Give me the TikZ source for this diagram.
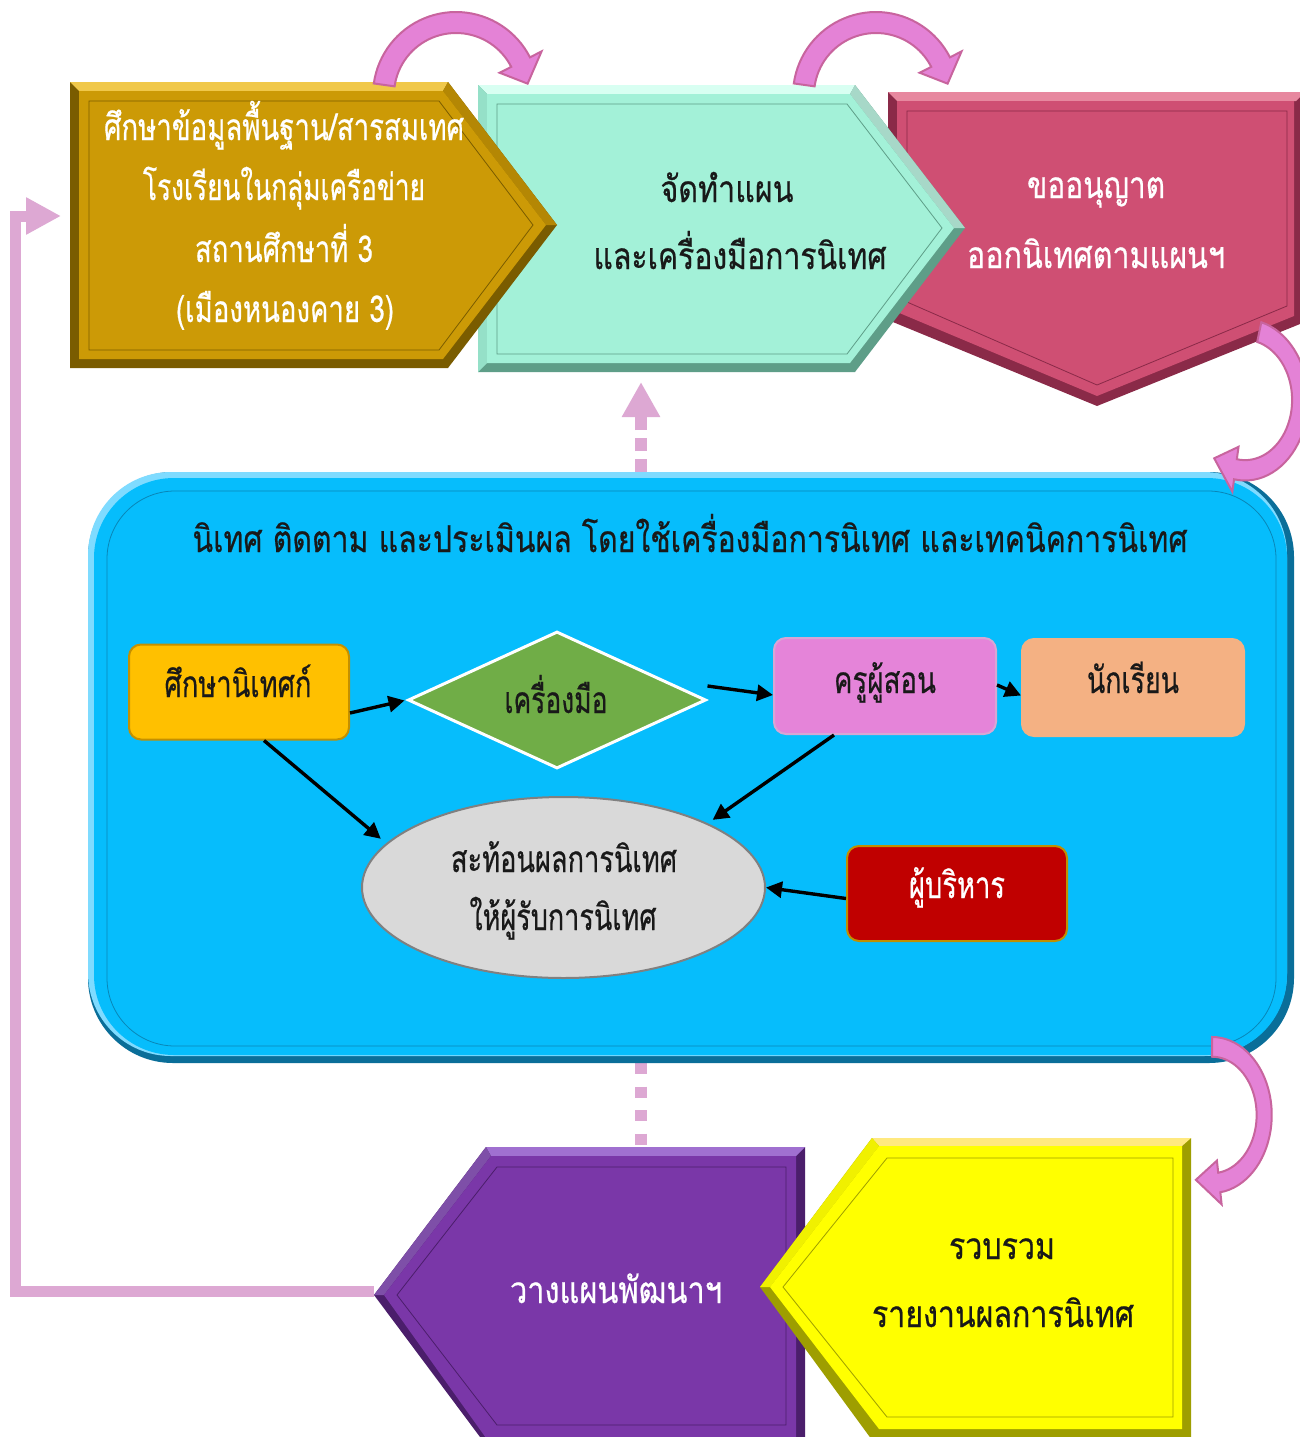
\documentclass[tikz,border=0pt]{standalone}
\usepackage{fontspec}
\usepackage{graphicx}
\usetikzlibrary{arrows.meta,shapes.geometric,calc}
\newfontfamily\thai[Script=Thai,FakeBold=0.6]{Loma}
\newcommand\fitw[2]{\resizebox{#1}{\height}{#2}}
\definecolor{goldM}{HTML}{CC9A06}\definecolor{goldD}{HTML}{7A5C00}\definecolor{goldL}{HTML}{F0C84A}
\definecolor{mintM}{HTML}{A3F1D8}\definecolor{mintD}{HTML}{5E9E88}\definecolor{mintL}{HTML}{D8FFF2}
\definecolor{roseM}{HTML}{CF4F73}\definecolor{roseD}{HTML}{8A2A48}\definecolor{roseL}{HTML}{E7889F}
\definecolor{purM}{HTML}{7A37A8}\definecolor{purD}{HTML}{4B1E6B}\definecolor{purL}{HTML}{A070D0}
\definecolor{yelM}{HTML}{FFFF00}\definecolor{yelD}{HTML}{9E9E00}\definecolor{yelL}{HTML}{FFE97F}
\definecolor{blueM}{HTML}{06BDFC}\definecolor{blueD}{HTML}{0A6E99}\definecolor{blueL}{HTML}{7FDBFF}
\definecolor{pkfill}{HTML}{E482D6}\definecolor{pkline}{HTML}{C8649E}
\definecolor{lilac}{HTML}{DDA8D3}
\newcommand\bandarrow[3]{%
  \filldraw[pkarrow] plot[domain=#1:#2,samples=40] ({83*cos(\x)},{83*sin(\x)})
    -- ({96*cos(#2)},{96*sin(#2)}) -- ({72.5*cos(#3)},{72.5*sin(#3)})
    -- ({49*cos(#2)},{49*sin(#2)})
    -- plot[domain=#2:#1,samples=40] ({62*cos(\x)},{62*sin(\x)}) -- cycle;}
\begin{document}
\begin{tikzpicture}[x=1pt,y=-1pt,
  txt/.style={anchor=base, inner sep=0pt, font=\thai\fontsize{37pt}{44pt}\selectfont, text=black!90},
  wtxt/.style={txt, text=white},
  pkarrow/.style={fill=pkfill, draw=pkline, line width=2pt, line join=miter},
  arr/.style={line width=3.4pt, -{Triangle[length=16pt,width=16pt]}},
  lilacline/.style={draw=lilac, line width=11pt, -{Triangle[length=35pt,width=35pt]}},
  lilacdash/.style={draw=lilac, line width=12pt},
  inbox/.style={rounded corners=12pt, line width=2pt, minimum width=#1, minimum height=95pt, inner sep=0pt},
  thinline/.style={line width=0.8pt}]
\useasboundingbox (0,0) rectangle (1299,1437);
\fill[white] (0,0) rectangle (1299,1437);

% named coordinates for connectors
\coordinate (purtip) at (374,1291);
\coordinate (goldin) at (61,216);
\coordinate (cttop) at (641,472);
\coordinate (mintbot) at (641,382);
\coordinate (ctbot) at (641,1063);
\coordinate (purtop) at (641,1147);

% feedback line
\draw[lilacline] (purtip) -- (15.5,1291) |- (goldin);
% dashed links
\draw[lilacdash, dash pattern=on 13pt off 8pt, -{Triangle[length=35pt,width=36pt]}] (cttop) -- (mintbot);
\draw[lilacdash, dash pattern=on 11pt off 12.5pt] (ctbot) -- (purtop);

% rose shape
\fill[roseD] (888,92) -- (1305,92) -- (1305,322) -- (1097,406) -- (888,320) -- cycle;
\fill[roseL] (888,92) -- (1305,92) -- (1296,101) -- (897,101) -- cycle;
\fill[roseM] (897,101) -- (1294,101) -- (1294,316) -- (1097,396) -- (897,312) -- cycle;
\draw[roseD, thinline] (907,111) -- (1287,111) -- (1287,306) -- (1097,385) -- (907,302) -- cycle;
% mint shape
\fill[mintD] (478,85) -- (855,85) -- (965,228) -- (855,372) -- (478,372) -- cycle;
\fill[mintL] (478,85) -- (855,85) -- (850,94) -- (487,94) -- cycle;
\fill[mintL!60!mintD] (855,85) -- (965,228) -- (954,228) -- (850,94) -- cycle;
\fill[mintM!80!mintD] (478,85) -- (487,94) -- (487,363) -- (478,372) -- cycle;
\fill[mintM] (487,94) -- (850,94) -- (954,228) -- (850,363) -- (487,363) -- cycle;
\draw[mintD, thinline] (497,104) -- (847,104) -- (942,228) -- (847,354) -- (497,354) -- cycle;
% gold shape
\fill[goldD] (70,82) -- (448,82) -- (557,225) -- (448,368) -- (70,368) -- cycle;
\fill[goldL] (70,82) -- (448,82) -- (443,91) -- (79,91) -- cycle;
\fill[goldM!70!goldD] (448,82) -- (557,225) -- (546,225) -- (443,91) -- cycle;
\fill[goldM] (79,91) -- (443,91) -- (546,225) -- (443,359) -- (79,359) -- cycle;
\draw[goldD, thinline] (89,101) -- (439,101) -- (533,225) -- (439,350) -- (89,350) -- cycle;

% container
\fill[blueD, rounded corners=85pt] (88,472) rectangle (1294,1063);
\fill[blueL, rounded corners=83pt] (88,472) rectangle (1287,1056);
\fill[blueM, rounded corners=80pt] (94,478) rectangle (1287,1055);
\draw[blueD!70!blueM, thinline, rounded corners=68pt] (107,491) rectangle (1276,1046);

% inner diagram
\node[inbox=220pt, fill={rgb,255:red,255;green,192;blue,0}, draw={rgb,255:red,196;green,144;blue,0}] (gk) at (239,692) {};
\node[diamond, minimum width=298pt, minimum height=137pt, inner sep=0pt, fill={rgb,255:red,112;green,173;blue,71}, draw=white, line width=3pt] (dm) at (557,700) {};
\node[inbox=222pt, minimum height=96pt, fill={rgb,255:red,229;green,132;blue,217}, draw={rgb,255:red,216;green,166;blue,212}] (kr) at (885,686) {};
\node[inbox=222pt, minimum height=97pt, fill={rgb,255:red,244;green,177;blue,131}, draw={rgb,255:red,244;green,177;blue,131}] (st) at (1133,687.5) {};
\node[inbox=220pt, fill={rgb,255:red,192;green,0;blue,0}, draw={rgb,255:red,191;green,144;blue,0}] (ad) at (957,893.5) {};
\node[ellipse, minimum width=403pt, minimum height=181pt, inner sep=0pt, fill={rgb,255:red,217;green,217;blue,217}, draw={rgb,255:red,128;green,128;blue,128}, line width=2pt] (el) at (563.5,887.5) {};

\draw[arr, shorten >=2pt] ([yshift=-21pt]gk.east) -- (dm.west);
\draw[arr] ([yshift=14pt]dm.east) -- ([yshift=-9pt]kr.west);
\draw[arr] ([yshift=1pt]kr.east) -- ([yshift=-8pt]st.west);
\draw[arr, shorten >=7pt] ([xshift=25pt]gk.south) -- (el.166);
\draw[arr, shorten >=6pt] ([xshift=-51pt]kr.south) -- (el.24);
\draw[arr] ([yshift=-5pt]ad.west) -- (el.east);

% purple shape
\fill[purD] (486,1147) -- (805,1147) -- (805,1445) -- (486,1445) -- (374,1295) -- cycle;
\fill[purL] (486,1147) -- (805,1147) -- (796,1156) -- (491,1156) -- cycle;
\fill[purL!60!purD] (486,1147) -- (491,1156) -- (384,1295) -- (374,1295) -- cycle;
\fill[purM] (491,1156) -- (796,1156) -- (796,1445) -- (491,1445) -- (384,1295) -- cycle;
\draw[purD, thinline] (497,1167) -- (786,1167) -- (786,1425) -- (497,1425) -- (397,1295) -- cycle;
% yellow shape
\fill[yelD] (872,1138) -- (1191,1138) -- (1191,1440) -- (872,1440) -- (760,1287) -- cycle;
\fill[yelL] (872,1138) -- (1191,1138) -- (1182,1146) -- (879,1146) -- cycle;
\fill[yelM!85!yelD] (872,1138) -- (879,1146) -- (770,1287) -- (760,1287) -- cycle;
\fill[yelM] (879,1146) -- (1182,1146) -- (1182,1429) -- (879,1429) -- (770,1287) -- cycle;
\draw[yelD, thinline] (887,1158) -- (1173,1158) -- (1173,1417) -- (887,1417) -- (783,1287) -- cycle;

% curved pink arrows
\begin{scope}[shift={(456,95)}]\bandarrow{188}{333}{351}\end{scope}
\begin{scope}[shift={(876,95)}]\bandarrow{188}{333}{351}\end{scope}
\begin{scope}[shift={(1245,400)}, xscale=0.76, yscale=0.97]\bandarrow{-75}{100}{124}\end{scope}
\begin{scope}[shift={(1212,1115)}, xscale=0.72, yscale=0.94]\bandarrow{-90}{82}{108}\end{scope}

% texts
\node[wtxt] (g1) at (284,140) {\fitw{360pt}{ศึกษาข้อมูลพื้นฐาน/สารสมเทศ}};
\node[wtxt] (g2) at (284,200) {\fitw{282pt}{โรงเรียนในกลุ่มเครือข่าย}};
\node[wtxt] (g3) at (284,262) {\fitw{178pt}{สถานศึกษาที่ 3}};
\node[wtxt] (g4) at (285,322) {\fitw{218pt}{(เมืองหนองคาย 3)}};
\node[txt] (m1) at (727,202) {\fitw{133pt}{จัดทำแผน}};
\node[txt] (m2) at (740,269) {\fitw{293pt}{และเครื่องมือการนิเทศ}};
\node[wtxt] (r1) at (1096,198) {\fitw{138pt}{ขออนุญาต}};
\node[wtxt] (r2) at (1096,268) {\fitw{258pt}{ออกนิเทศตามแผนฯ}};
\node[txt] (tt) at (690,552) {\fitw{995pt}{นิเทศ ติดตาม และประเมินผล โดยใช้เครื่องมือการนิเทศ และเทคนิคการนิเทศ}};
\node[txt] (gkt) at (238,697) {\fitw{147pt}{ศึกษานิเทศก์}};
\node[txt] (dmt) at (556,713) {\fitw{103pt}{เครื่องมือ}};
\node[txt] (krt) at (885,693) {\fitw{102pt}{ครูผู้สอน}};
\node[txt] (stt) at (1133,693) {\fitw{92pt}{นักเรียน}};
\node[wtxt] (adt) at (957,898) {\fitw{96pt}{ผู้บริหาร}};
\node[txt] (e1) at (564,872) {\fitw{226pt}{สะท้อนผลการนิเทศ}};
\node[txt] (e2) at (563,930) {\fitw{187pt}{ให้ผู้รับการนิเทศ}};
\node[wtxt] (pt) at (616,1303) {\fitw{212pt}{วางแผนพัฒนาฯ}};
\node[txt] (y1) at (1002,1259) {\fitw{106pt}{รวบรวม}};
\node[txt] (y2) at (1003,1327) {\fitw{262pt}{รายงานผลการนิเทศ}};
\end{tikzpicture}
\end{document}
